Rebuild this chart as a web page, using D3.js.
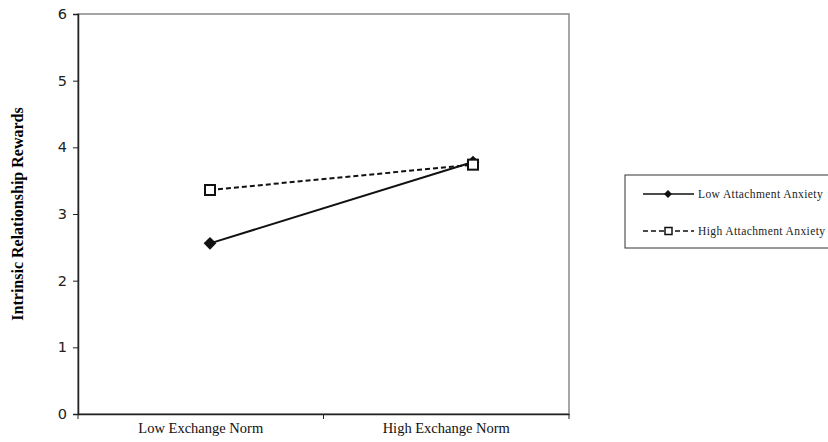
<!DOCTYPE html>
<html>
<head>
<meta charset="utf-8">
<script src="https://cdn.jsdelivr.net/npm/d3@7"></script>
<style>
  body { margin: 0; background: #fff; }
  svg { display: block; }
</style>
</head>
<body>
<div id="chart"></div>
<script>
// data
let categories = ["Low Exchange Norm", "High Exchange Norm"]
let lowAnxiety = [2.56, 3.78]
let highAnxiety = [3.36, 3.74]
let seriesNames = ["Low Attachment Anxiety", "High Attachment Anxiety"]
let yTicks = [0, 1, 2, 3, 4, 5, 6]

let width = 828, height = 442
let margin = { top: 14, right: 259, bottom: 28, left: 78 }
let innerW = width - margin.left - margin.right,
  innerH = height - margin.top - margin.bottom

let svg = d3.select("#chart").append("svg")
  .attr("width", width)
  .attr("height", height)

let g = svg.append("g").attr("transform", `translate(${margin.left},${margin.top})`)

let x = d3.scaleBand().domain(categories).range([0, innerW])
// markers sit a bit right of the category centres in the original
let xp = d3.scalePoint().domain(categories).range([132, 395])
let y = d3.scaleLinear().domain([0, 6]).range([innerH, 0])

// plot frame
g.append("rect")
  .attr("width", innerW).attr("height", innerH)
  .attr("fill", "none").attr("stroke", "#888").attr("stroke-width", 1.5)

// y axis
let yAxis = g.append("g")
  .call(d3.axisLeft(y).tickValues(yTicks).tickFormat(d3.format("d")).tickSize(5).tickPadding(6))
yAxis.select(".domain").attr("stroke", "#222").attr("stroke-width", 1.5)
yAxis.selectAll(".tick line").attr("stroke", "#222")
yAxis.selectAll("text")
  .attr("font-family", "DejaVu Sans, Verdana, sans-serif")
  .attr("font-size", 14.5).attr("fill", "#222")

// x axis
let xAxis = g.append("g").attr("transform", `translate(0,${innerH})`)
  .call(d3.axisBottom(x).tickSize(0).tickPadding(9))
xAxis.select(".domain").attr("stroke", "#222").attr("stroke-width", 1.5)
xAxis.selectAll("text")
  .attr("font-family", "Liberation Serif, Times New Roman, serif")
  .attr("font-size", 14.5).attr("fill", "#111")
// tick marks at the category boundaries
let bounds = [0, x.bandwidth(), innerW]
xAxis.selectAll(".edge").data(bounds).enter().append("line")
  .attr("x1", d => d).attr("x2", d => d)
  .attr("y1", 0).attr("y2", 5).attr("stroke", "#222")

// y title
svg.append("text")
  .attr("transform", `translate(23,${margin.top + innerH / 2}) rotate(-90)`)
  .attr("text-anchor", "middle")
  .attr("font-family", "Liberation Serif, Times New Roman, serif")
  .attr("font-weight", "bold").attr("font-size", 16)
  .text("Intrinsic Relationship Rewards")

let line = d3.line().x((d, i) => xp(categories[i])).y(d => y(d))

g.append("path").datum(highAnxiety)
  .attr("d", line).attr("fill", "none")
  .attr("stroke", "#111").attr("stroke-width", 2).attr("stroke-dasharray", "5,3")
g.append("path").datum(lowAnxiety)
  .attr("d", line).attr("fill", "none")
  .attr("stroke", "#111").attr("stroke-width", 2)

// filled diamond = square turned 45 degrees
g.selectAll(".lowpt").data(lowAnxiety).enter().append("rect")
  .attr("transform", (d, i) => `translate(${xp(categories[i])},${y(d)}) rotate(45)`)
  .attr("x", -4.5).attr("y", -4.5).attr("width", 9).attr("height", 9)
  .attr("fill", "#111")

g.selectAll(".highpt").data(highAnxiety).enter().append("rect")
  .attr("x", (d, i) => xp(categories[i]) - 5)
  .attr("y", d => y(d) - 5)
  .attr("width", 10).attr("height", 10)
  .attr("fill", "#fff").attr("stroke", "#111").attr("stroke-width", 2)

// legend
let lg = svg.append("g").attr("transform", "translate(625,175)")
lg.append("rect").attr("width", 210).attr("height", 73)
  .attr("fill", "#fff").attr("stroke", "#333").attr("stroke-width", 1)

let rows = lg.selectAll(".row").data(seriesNames).enter().append("g")
  .attr("transform", (d, i) => `translate(0,${19 + i * 37})`)
rows.append("line")
  .attr("x1", 18).attr("x2", 69).attr("y1", 0).attr("y2", 0)
  .attr("stroke", "#111").attr("stroke-width", 1.5)
  .attr("stroke-dasharray", (d, i) => i ? "5,3" : null)
rows.filter((d, i) => i === 0).append("rect")
  .attr("transform", "translate(43,0) rotate(45)")
  .attr("x", -2.8).attr("y", -2.8).attr("width", 5.6).attr("height", 5.6)
  .attr("fill", "#111")
rows.filter((d, i) => i === 1).append("rect")
  .attr("x", 40).attr("y", -3.5).attr("width", 7).attr("height", 7)
  .attr("fill", "#fff").attr("stroke", "#111").attr("stroke-width", 1.5)
rows.append("text")
  .attr("x", 73).attr("y", 4)
  .attr("font-family", "Liberation Serif, Times New Roman, serif")
  .attr("font-size", 11.5).attr("letter-spacing", 0.4).attr("fill", "#222")
  .text(d => d)
</script>
</body>
</html>
